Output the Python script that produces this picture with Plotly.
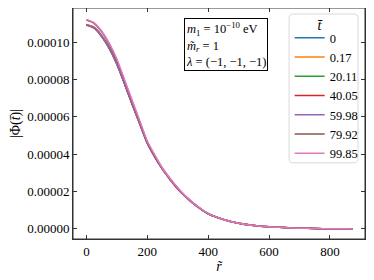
import plotly.graph_objects as go

r = [0, 25, 50, 75, 100, 125, 150, 175, 200, 225, 250, 275, 300, 325, 350, 375, 400,
     450, 500, 550, 600, 650, 700, 750, 800, 850, 875]

# |Phi| values in units of 1e-5
phi_0 = [10.95, 10.80, 10.35, 9.70, 8.85, 7.80, 6.70, 5.65, 4.60, 3.85, 3.20, 2.65, 2.15, 1.74, 1.38, 1.07, 0.81,
         0.50, 0.30, 0.18, 0.11, 0.07, 0.04, 0.02, 0.01, 0.005, 0.002]
phi_017 = [10.95, 10.80, 10.35, 9.70, 8.85, 7.80, 6.70, 5.65, 4.60, 3.85, 3.20, 2.65, 2.15, 1.74, 1.38, 1.07, 0.81,
           0.50, 0.30, 0.18, 0.11, 0.07, 0.04, 0.02, 0.01, 0.005, 0.002]
phi_2011 = [10.90, 10.75, 10.30, 9.66, 8.82, 7.78, 6.68, 5.63, 4.59, 3.84, 3.19, 2.64, 2.14, 1.73, 1.38, 1.07, 0.81,
            0.50, 0.30, 0.18, 0.11, 0.07, 0.04, 0.02, 0.01, 0.005, 0.002]
phi_4005 = [10.92, 10.77, 10.32, 9.68, 8.83, 7.79, 6.69, 5.64, 4.60, 3.85, 3.20, 2.65, 2.15, 1.74, 1.38, 1.07, 0.81,
            0.50, 0.30, 0.18, 0.11, 0.07, 0.04, 0.02, 0.01, 0.005, 0.002]
phi_5998 = [10.93, 10.78, 10.33, 9.69, 8.84, 7.80, 6.70, 5.65, 4.60, 3.85, 3.20, 2.65, 2.15, 1.74, 1.38, 1.07, 0.81,
            0.50, 0.30, 0.18, 0.11, 0.07, 0.04, 0.02, 0.01, 0.005, 0.002]
phi_7992 = [11.18, 11.01, 10.55, 9.88, 9.02, 7.95, 6.84, 5.75, 4.66, 3.90, 3.24, 2.69, 2.19, 1.76, 1.40, 1.08, 0.82,
            0.50, 0.30, 0.18, 0.11, 0.07, 0.04, 0.02, 0.01, 0.005, 0.002]
phi_9985 = [11.22, 11.05, 10.60, 9.95, 9.10, 8.00, 6.90, 5.80, 4.70, 3.95, 3.25, 2.70, 2.20, 1.77, 1.40, 1.08, 0.82,
            0.50, 0.30, 0.18, 0.11, 0.07, 0.04, 0.02, 0.01, 0.005, 0.002]

labels = ["0", "0.17", "20.11", "40.05", "59.98", "79.92", "99.85"]
series = [phi_0, phi_017, phi_2011, phi_4005, phi_5998, phi_7992, phi_9985]
colors = ["#1f77b4", "#ff7f0e", "#2ca02c", "#d62728", "#9467bd", "#8c564b", "#e377c2"]

xticks = [0, 200, 400, 600, 800]
yticks = [0, 2e-5, 4e-5, 6e-5, 8e-5, 1e-4]

font = "Liberation Serif"

fig = go.Figure()
for lab, vals, col in zip(labels, series, colors):
    fig.add_trace(go.Scatter(
        x=r, y=[v * 1e-5 for v in vals], name=lab, mode="lines",
        line=dict(color=col, width=1.5, shape="spline", smoothing=0.6)))

axis_common = dict(
    showline=True, linecolor="#333", linewidth=1, mirror="ticks",
    ticks="inside", ticklen=4, tickcolor="#333", showgrid=False, zeroline=False,
    automargin=False,
    tickfont=dict(family=font, size=13, color="black"))

# the page body adds an 8px offset, so margins are reduced by 8 on left/top
fig.update_layout(
    width=374, height=280,
    margin=dict(l=65, r=17, t=0, b=49),
    plot_bgcolor="white", paper_bgcolor="white",
    font=dict(family=font, color="black", size=13),
    xaxis=dict(range=[-44, 915], tickvals=xticks,
               title=dict(text="<i>r̃</i>", font=dict(family=font, size=14), standoff=1),
               **axis_common),
    yaxis=dict(range=[-5.4e-6, 1.183e-4], tickvals=yticks, tickformat=".5f",
               title=dict(text="|Φ(<i>t̄</i>)|", font=dict(family=font, size=14), standoff=3),
               **axis_common),
    legend=dict(x=0.742, y=0.935, xanchor="left", yanchor="top",
                bgcolor="rgba(0,0,0,0)", borderwidth=0,
                font=dict(family=font, size=12.5),
                tracegroupgap=0, itemwidth=30),
    showlegend=True,
)

# frame
fig.add_shape(type="rect", xref="paper", yref="paper", x0=0, y0=0, x1=1, y1=1,
              line=dict(color="#333", width=1), layer="above")
# legend box with rounded corners
x0, x1, y0, y1 = 0.740, 0.976, 0.33, 0.974
rx, ry = 0.014, 0.018
path = (f"M {x0+rx},{y1} L {x1-rx},{y1} Q {x1},{y1} {x1},{y1-ry} "
        f"L {x1},{y0+ry} Q {x1},{y0} {x1-rx},{y0} L {x0+rx},{y0} Q {x0},{y0} {x0},{y0+ry} "
        f"L {x0},{y1-ry} Q {x0},{y1} {x0+rx},{y1} Z")
fig.add_shape(type="path", xref="paper", yref="paper", path=path,
              line=dict(color="#d9d9d9", width=1), fillcolor="rgba(255,255,255,0.8)", layer="below")
# legend title
fig.add_annotation(xref="paper", yref="paper", x=0.862, y=0.965, yanchor="top", text="<i>t̄</i>",
                   showarrow=False, font=dict(family=font, size=14))

fig.add_annotation(
    xref="paper", yref="paper", x=0.38, y=0.958, xanchor="left", yanchor="top",
    text="<i>m</i><sub>1</sub> = 10<sup>−10</sup> eV<br><i>m̃</i><sub><i>r</i></sub> = 1<br><i>λ</i> = (−1, −1, −1)",
    align="left", showarrow=False, bordercolor="black", borderwidth=1, borderpad=1,
    bgcolor="white", font=dict(family=font, size=12.5))

fig.write_html("out.html")
